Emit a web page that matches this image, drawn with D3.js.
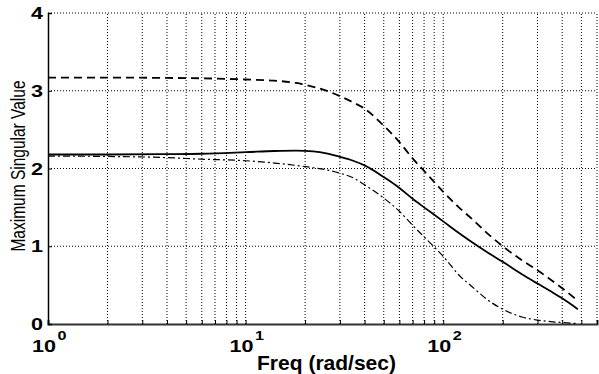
<!DOCTYPE html>
<html>
<head>
<meta charset="utf-8">
<script src="https://cdn.jsdelivr.net/npm/d3@7"></script>
<style>
  body { margin: 0; background: #fff; }
  text { font-family: "Liberation Sans", Arial, sans-serif; fill: #000; }
</style>
</head>
<body>
<div id="chart"></div>
<script>
// frequency points (rad/sec) shared by all three curves
let freq = [1, 2, 4, 6, 10, 14, 18, 22, 26, 30, 35, 40, 50, 60, 70, 80, 100, 120, 140, 170, 200, 250, 300, 350, 400, 480];

// dashed curve
let upper = [3.17, 3.17, 3.165, 3.16, 3.145, 3.13, 3.10, 3.05, 2.995, 2.93, 2.85, 2.77, 2.55, 2.34, 2.13, 1.97, 1.70, 1.50, 1.35, 1.15, 1.00, 0.82, 0.69, 0.57, 0.46, 0.30];
// solid curve
let middle = [2.18, 2.18, 2.185, 2.19, 2.21, 2.225, 2.23, 2.22, 2.19, 2.15, 2.10, 2.04, 1.89, 1.75, 1.61, 1.50, 1.32, 1.17, 1.05, 0.91, 0.80, 0.64, 0.52, 0.42, 0.33, 0.19];
// dash-dot curve
let lower = [2.16, 2.155, 2.14, 2.12, 2.10, 2.07, 2.04, 2.01, 1.98, 1.94, 1.88, 1.79, 1.62, 1.45, 1.27, 1.12, 0.87, 0.63, 0.48, 0.30, 0.19, 0.09, 0.05, 0.03, 0.02, 0.005];

let yTicks = [0, 1, 2, 3, 4];
let xDecades = [1, 10, 100];
let xExponents = ['0', '1', '2'];

let svgWidth = 599, svgHeight = 374;
let padding = { left: 48, right: 2, top: 13, bottom: 50 };

let svg = d3.select('#chart').append('svg')
    .attr('width', svgWidth)
    .attr('height', svgHeight);

let x = d3.scaleLog()
    .domain([1, 600])
    .range([padding.left, svgWidth - padding.right]);
let y = d3.scaleLinear()
    .domain([0, 4])
    .range([svgHeight - padding.bottom, padding.top]);

// grid lines (minor + major on log axis)
let xGrid = [];
[1, 10, 100].forEach(dec => {
    for (let k = 1; k <= 9; k++) {
        let v = dec * k;
        if (v > 1 && v <= 600) xGrid.push(v);
    }
});
svg.append('g')
    .selectAll('line')
    .data(xGrid)
    .enter()
    .append('line')
    .attr('x1', d => x(d)).attr('x2', d => x(d))
    .attr('y1', y(0)).attr('y2', y(4))
    .attr('stroke', '#000')
    .attr('stroke-width', 1)
    .attr('stroke-dasharray', '1,2');

svg.append('g')
    .selectAll('line')
    .data(yTicks.filter(d => d > 0))
    .enter()
    .append('line')
    .attr('x1', x(1)).attr('x2', x(600))
    .attr('y1', d => y(d)).attr('y2', d => y(d))
    .attr('stroke', '#000')
    .attr('stroke-width', 1)
    .attr('stroke-dasharray', '1,2');

// axes
let axis_x = d3.axisBottom(x).tickValues(xGrid).tickSize(-4).tickFormat('');
svg.append('g')
    .attr('transform', `translate(0, ${y(0)})`)
    .call(axis_x)
    .call(g => g.select('.domain').attr('stroke-width', 2).attr('stroke', '#333'));

let axis_y = d3.axisLeft(y).tickValues(yTicks).tickSize(-4).tickFormat('');
svg.append('g')
    .attr('transform', `translate(${x(1)}, 0)`)
    .call(axis_y)
    .call(g => g.select('.domain').attr('stroke-width', 1.5));

// y tick labels
svg.append('g')
    .selectAll('text')
    .data(yTicks)
    .enter()
    .append('text')
    .attr('transform', d => `translate(${x(1) - 5}, ${y(d) + 6}) scale(1.35, 1)`)
    .attr('text-anchor', 'end')
    .attr('font-size', 16)
    .attr('font-weight', 'bold')
    .text(d => d);

// x tick labels 10^n
let xl = svg.append('g')
    .selectAll('g')
    .data(xDecades)
    .enter()
    .append('g')
    .attr('transform', d => `translate(${x(d) - 4}, 352) scale(1.35, 1)`);
xl.append('text')
    .attr('text-anchor', 'middle')
    .attr('font-size', 16)
    .attr('font-weight', 'bold')
    .text('10');
xl.append('text')
    .attr('x', 10)
    .attr('y', -12)
    .attr('font-size', 12)
    .attr('font-weight', 'bold')
    .text((d, i) => xExponents[i]);

// axis labels
svg.append('text')
    .attr('transform', `translate(25, 166) rotate(-90) scale(1, 1.3)`)
    .attr('text-anchor', 'middle')
    .attr('font-size', 15.5)
    .text('Maximum Singular Value');

svg.append('text')
    .attr('x', (x(1) + x(600)) / 2 + 4)
    .attr('y', 370)
    .attr('text-anchor', 'middle')
    .attr('font-size', 21)
    .attr('font-weight', 'bold')
    .text('Freq (rad/sec)');

// curves
let line = d3.line()
    .x(d => x(d[0]))
    .y(d => y(d[1]))
    .curve(d3.curveMonotoneX);

function draw_curve(values, dash, width) {
    svg.append('path')
        .datum(freq.map((f, i) => [f, values[i]]))
        .attr('d', line)
        .attr('fill', 'none')
        .attr('stroke', '#000')
        .attr('stroke-width', width)
        .attr('stroke-dasharray', dash);
}
draw_curve(upper, '8,5', 1.8);
draw_curve(middle, null, 1.8);
draw_curve(lower, '7,3,2,3', 1.2);
</script>
</body>
</html>
